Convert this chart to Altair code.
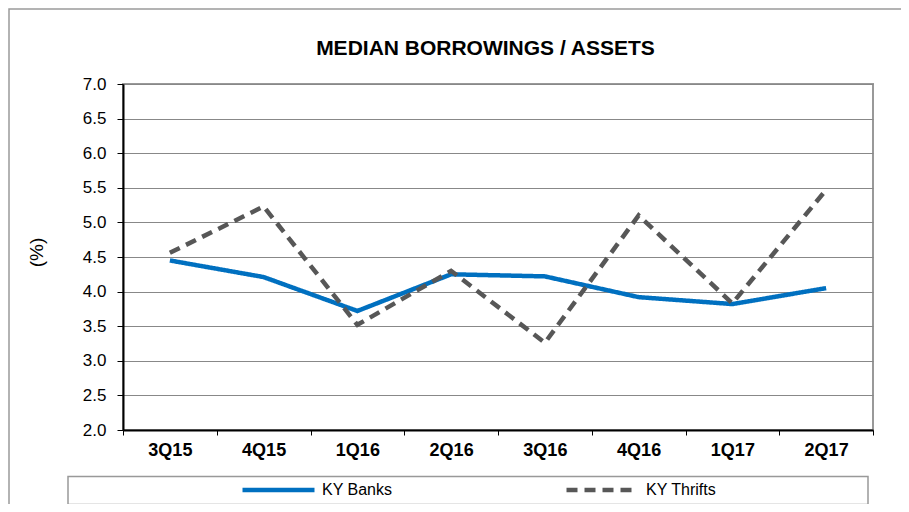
import altair as alt
import pandas as pd

quarters = ["3Q15", "4Q15", "1Q16", "2Q16", "3Q16", "4Q16", "1Q17", "2Q17"]
ky_banks = [4.45, 4.21, 3.72, 4.25, 4.22, 3.92, 3.82, 4.05]
ky_thrifts = [4.56, 5.23, 3.52, 4.30, 3.26, 5.10, 3.83, 5.47]
series_names = ["KY Banks", "KY Thrifts"]
y_ticks = [2.0, 2.5, 3.0, 3.5, 4.0, 4.5, 5.0, 5.5, 6.0, 6.5, 7.0]
title_text = "MEDIAN BORROWINGS / ASSETS"

df = pd.DataFrame({
    "quarter": quarters * 2,
    "value": ky_banks + ky_thrifts,
    "series": [series_names[0]] * len(quarters) + [series_names[1]] * len(quarters),
})

FONT = "Liberation Sans"
one = alt.Data(values=[{}])

outer = alt.Chart(one).mark_rect(fill="transparent", stroke="#9a9a9a", strokeWidth=1.5).encode(
    x=alt.value(-114), x2=alt.value(820), y=alt.value(-75), y2=alt.value(520)
)

legend_box = alt.Chart(one).mark_rect(fill="white", stroke="#999999", strokeWidth=1.5).encode(
    x=alt.value(-55), x2=alt.value(745), y=alt.value(392.5), y2=alt.value(420.5)
)

title = alt.Chart(one).mark_text(
    text=title_text, font=FONT, fontSize=21, fontWeight="bold", color="black",
    align="center", baseline="alphabetic",
).encode(x=alt.value(362.5), y=alt.value(-29))

lines = alt.Chart(df).mark_line(strokeWidth=4.5).encode(
    x=alt.X(
        "quarter:N",
        sort=quarters,
        bandPosition=0.5,
        scale=alt.Scale(type="band", paddingInner=0, paddingOuter=0),
        axis=alt.Axis(
            title=None, labelAngle=0, labelFontSize=18, labelFontWeight="bold",
            labelFont=FONT, labelColor="black", tickBand="extent", tickSize=5,
            tickColor="black", labelPadding=6, domainColor="black", domainWidth=2,
            grid=False,
        ),
    ),
    y=alt.Y(
        "value:Q",
        scale=alt.Scale(domain=[2, 7], nice=False, zero=False),
        axis=alt.Axis(
            values=y_ticks, format=".1f", title="(%)", titleFont=FONT,
            titleFontSize=19, titleFontWeight="normal", titleColor="black",
            titleX=-87, titleY=168, titleAngle=-90, titleAlign="center",
            titleBaseline="middle", labelFontSize=17, labelFont=FONT,
            labelColor="black", labelPadding=11, tickSize=6, tickColor="black",
            domainColor="black", domainWidth=2, gridColor="#888888", gridWidth=1,
        ),
    ),
    color=alt.Color(
        "series:N", title=None,
        scale=alt.Scale(domain=series_names, range=["#0070C0", "#575757"]),
    ),
    strokeDash=alt.StrokeDash(
        "series:N", title=None,
        scale=alt.Scale(domain=series_names, range=[[1, 0], [11, 7]]),
    ),
)

chart = alt.layer(outer, legend_box, title, lines).properties(
    width=750,
    height=346,
    padding={"left": 115, "top": 76, "right": 28, "bottom": 74},
    autosize=alt.AutoSizeParams(type="none"),
).configure_view(
    stroke="#999999", strokeWidth=2
).configure_legend(
    orient="none", legendX=117, legendY=398, direction="horizontal",
    symbolType="stroke", symbolSize=5184, symbolStrokeWidth=4.5,
    labelFont=FONT, labelFontSize=16, labelColor="black", labelOffset=5,
    columnPadding=171, clipHeight=16, padding=0,
)

chart.save("out.html", embed_options={"renderer": "svg", "actions": False})
